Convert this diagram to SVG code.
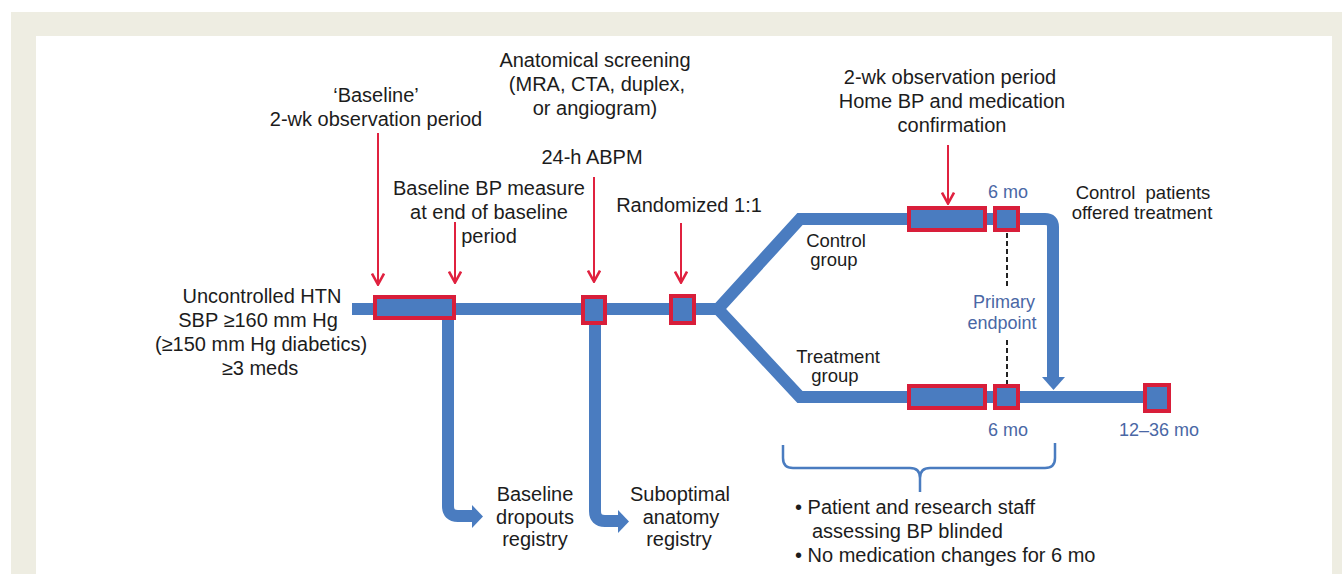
<svg xmlns="http://www.w3.org/2000/svg" width="1342" height="574" viewBox="0 0 1342 574">
<defs>
<style>
.t{font-family:"Liberation Sans",Arial,sans-serif;font-size:20px;fill:#1c1c1c;text-anchor:middle}
.s{font-size:18.5px}
.b{font-family:"Liberation Sans",Arial,sans-serif;font-size:18px;fill:#4a67a5;text-anchor:middle}
.l{text-anchor:start}
.flow{fill:none;stroke:#4a7cc0;stroke-width:12;stroke-linejoin:miter}
.head{fill:#4a7cc0}
.box{fill:#4a7cc0;stroke:#d81e3a;stroke-width:4}
.ra{stroke:#e0213f;stroke-width:2;fill:none}
.dash{stroke:#222;stroke-width:2;stroke-dasharray:5 3;fill:none}
.brace{fill:none;stroke:#4a7cc0;stroke-width:2.5}
</style>
<marker id="chev" viewBox="0 0 14 14" refX="13" refY="7" markerWidth="14" markerHeight="14" markerUnits="userSpaceOnUse" orient="auto">
<path d="M1.5,1 L12.5,7 L1.5,13" fill="none" stroke="#e0213f" stroke-width="2.6"/>
</marker>
</defs>
<rect x="11" y="12" width="1331" height="562" fill="#eeede2"/>
<rect x="36" y="36" width="1296" height="538" fill="#ffffff"/>

<g id="connectors">
<path class="flow" d="M352 309 L718 309"/>
<path class="flow" d="M718 309 L800 219 L1045 219 Q1053 219 1053 227 L1053 378"/>
<polygon class="head" points="1042,377 1065,377 1053.5,390"/>
<path class="flow" d="M718 309 L800 397 L1145 397"/>
<path class="flow" d="M448 319 L448 506 Q448 516 458 516 L473 516"/>
<polygon class="head" points="472,505 483,516.5 472,528"/>
<path class="flow" d="M595 324 L595 511 Q595 521 605 521 L619 521"/>
<polygon class="head" points="618,510 629,521.5 618,533"/>
<line class="ra" x1="378" y1="133" x2="378" y2="285" marker-end="url(#chev)"/>
<line class="ra" x1="455" y1="222" x2="455" y2="283" marker-end="url(#chev)"/>
<line class="ra" x1="594" y1="177" x2="594" y2="282" marker-end="url(#chev)"/>
<line class="ra" x1="681" y1="223" x2="681" y2="283" marker-end="url(#chev)"/>
<line class="ra" x1="948" y1="145" x2="948" y2="204" marker-end="url(#chev)"/>
<line class="dash" x1="1007" y1="233" x2="1007" y2="287"/>
<line class="dash" x1="1007" y1="340" x2="1007" y2="385"/>
<path class="brace" d="M783 445 L783 458 Q783 468 793 468 L910 468 Q920 468 920 478 L920 492 M920 478 Q920 468 930 468 L1045 468 Q1055 468 1055 458 L1055 443"/>
</g>

<g id="baseline-box"><rect class="box" x="375" y="297" width="79" height="21"/></g>
<g id="abpm-box"><rect class="box" x="583" y="297" width="22" height="26"/></g>
<g id="randomized-box"><rect class="box" x="671" y="296" width="23" height="27"/></g>
<g id="control-observation-box"><rect class="box" x="909" y="208" width="76" height="22"/></g>
<g id="control-6mo-box"><rect class="box" x="995" y="208" width="23" height="22"/></g>
<g id="treatment-observation-box"><rect class="box" x="909" y="386" width="76" height="22"/></g>
<g id="treatment-6mo-box"><rect class="box" x="995" y="386" width="23" height="22"/></g>
<g id="final-box"><rect class="box" x="1145" y="385" width="24" height="26"/></g>

<g id="label-baseline-period"><text class="t" x="376" y="102">‘Baseline’</text><text class="t" x="376" y="126">2-wk observation period</text></g>
<g id="label-bp-measure"><text class="t" x="489" y="195">Baseline BP measure</text><text class="t" x="489" y="219">at end of baseline</text><text class="t" x="489" y="243">period</text></g>
<g id="label-anatomical"><text class="t" x="595" y="67">Anatomical screening</text><text class="t" x="597" y="91">(MRA, CTA, duplex,</text><text class="t" x="595" y="115">or angiogram)</text></g>
<g id="label-abpm"><text class="t" x="592" y="164">24-h ABPM</text></g>
<g id="label-randomized"><text class="t" x="689" y="212">Randomized 1:1</text></g>
<g id="label-home-bp"><text class="t" x="950" y="84">2-wk observation period</text><text class="t" x="952" y="108">Home BP and medication</text><text class="t" x="952" y="132">confirmation</text></g>
<g id="label-htn"><text class="t" x="262" y="303">Uncontrolled HTN</text><text class="t" x="258" y="327">SBP ≥160 mm Hg</text><text class="t" x="261" y="351">(≥150 mm Hg diabetics)</text><text class="t" x="260" y="375">≥3 meds</text></g>
<g id="label-dropouts"><text class="t" x="535" y="501">Baseline</text><text class="t" x="535" y="524">dropouts</text><text class="t" x="535" y="546">registry</text></g>
<g id="label-suboptimal"><text class="t" x="680" y="501">Suboptimal</text><text class="t" x="681" y="524">anatomy</text><text class="t" x="679" y="546">registry</text></g>
<g id="label-control-group"><text class="t s" x="836" y="247">Control</text><text class="t s" x="834" y="266">group</text></g>
<g id="label-treatment-group"><text class="t s" x="838" y="363">Treatment</text><text class="t s" x="835" y="382">group</text></g>
<g id="label-control-offered"><text class="t s" x="1143" y="199" xml:space="preserve">Control  patients</text><text class="t s" x="1142" y="219">offered treatment</text></g>
<g id="label-6mo-top"><text class="b" x="1008" y="198">6 mo</text></g>
<g id="label-primary-endpoint"><text class="b" x="1004" y="308">Primary</text><text class="b" x="1002" y="329">endpoint</text></g>
<g id="label-6mo-bottom"><text class="b" x="1008" y="436">6 mo</text></g>
<g id="label-12-36mo"><text class="b" x="1159" y="436">12–36 mo</text></g>
<g id="label-bullets"><text class="t l" x="795" y="514">• Patient and research staff</text><text class="t l" x="812" y="538">assessing BP blinded</text><text class="t l" x="795" y="562">• No medication changes for 6 mo</text></g>
</svg>
